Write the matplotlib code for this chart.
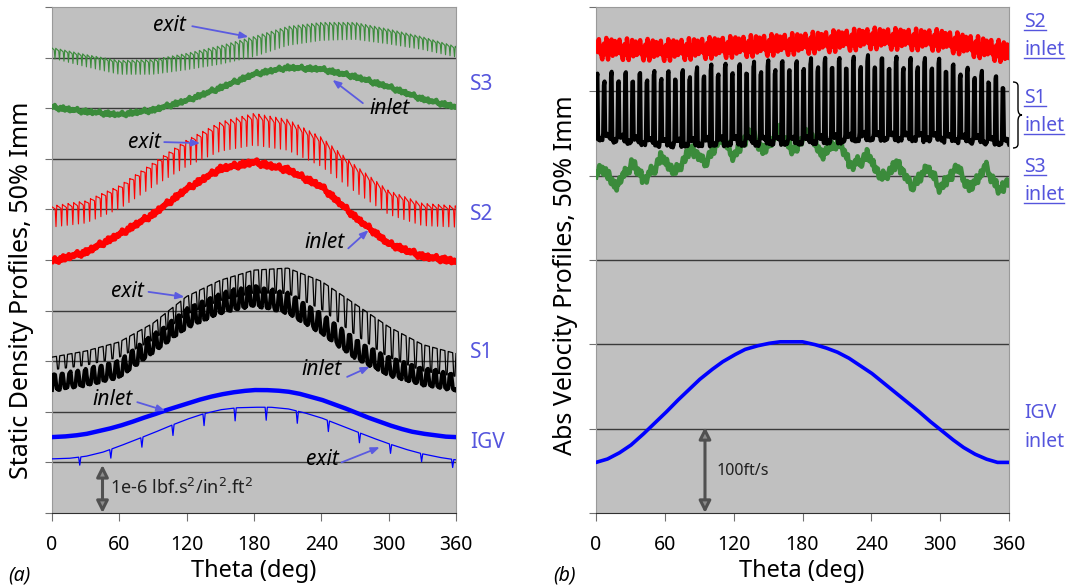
import numpy as np
import matplotlib.pyplot as plt
from matplotlib.path import Path
from matplotlib.patches import PathPatch
from matplotlib.lines import Line2D

plt.rcParams["font.family"] = ["Noto Sans", "DejaVu Sans"]

W, H = 1072, 588

# ---------------- panel (a): static density profiles ----------------
theta_a = [0, 30, 60, 90, 120, 150, 180, 210, 240, 270, 300, 330, 360]
theta_10 = list(range(0, 361, 10))
theta_15 = list(range(0, 361, 15))

igv_in_a = [1.50, 1.51, 1.53, 1.56, 1.61, 1.66, 1.72, 1.79, 1.87, 1.94, 2.02, 2.09, 2.16,
            2.23, 2.29, 2.34, 2.38, 2.41, 2.43, 2.43, 2.42, 2.40, 2.36, 2.30, 2.24, 2.16,
            2.08, 1.99, 1.90, 1.82, 1.74, 1.67, 1.61, 1.57, 1.54, 1.51, 1.50]
igv_ex_a = [1.07, 1.08, 1.12, 1.20, 1.32, 1.45, 1.58, 1.72, 1.85, 1.96, 2.04, 2.08, 2.09,
            2.09, 2.06, 1.98, 1.88, 1.75, 1.62, 1.49, 1.37, 1.26, 1.17, 1.10, 1.05]
s1_in_a = [2.58, 2.68, 2.85, 3.35, 3.85, 4.15, 4.30, 4.15, 3.75, 3.25, 2.90, 2.70, 2.58]
s1_ex_a = [3.08, 3.20, 3.38, 3.75, 4.28, 4.60, 4.80, 4.84, 4.58, 4.13, 3.68, 3.33, 3.15]
s2_in_a = [4.97, 5.15, 5.50, 5.90, 6.40, 6.80, 6.93, 6.78, 6.45, 5.85, 5.32, 5.07, 4.97]
s2_ex_a = [6.05, 6.15, 6.45, 6.90, 7.35, 7.70, 7.87, 7.75, 7.40, 6.85, 6.35, 6.10, 6.05]
s3_in_a = [8.02, 7.93, 7.87, 7.96, 8.15, 8.40, 8.67, 8.80, 8.77, 8.62, 8.42, 8.18, 8.02]
s3_ex_a = [9.19, 9.05, 8.93, 8.95, 9.07, 9.22, 9.40, 9.60, 9.68, 9.68, 9.55, 9.40, 9.21]

# blade-passing ripple depth, read at theta_a
igv_ex_depth = [0.16, 0.16, 0.18, 0.2, 0.22, 0.25, 0.26, 0.25, 0.22, 0.2, 0.18, 0.16, 0.16]
s1_in_amp = [0.15, 0.15, 0.16, 0.17, 0.18, 0.19, 0.19, 0.19, 0.19, 0.18, 0.17, 0.16, 0.15]
s1_ex_depth = [0.25, 0.28, 0.30, 0.33, 0.35, 0.40, 0.45, 0.50, 0.55, 0.60, 0.60, 0.52, 0.45]
s2_ex_depth = [0.40, 0.42, 0.44, 0.45, 0.50, 0.55, 0.60, 0.58, 0.55, 0.50, 0.45, 0.42, 0.40]
s3_ex_depth = [0.20, 0.23, 0.26, 0.28, 0.31, 0.35, 0.38, 0.36, 0.34, 0.32, 0.28, 0.24, 0.20]

# blades per revolution and one passage waveform for each row
igv_blades, igv_wave = 13, [0] * 25 + [-1, 0, 0]
s1_blades, s1_in_wave = 52, [-1.0, 0.9, 1.0, -0.9, -1.0]
s1_ex_wave = [0, 0, 0, 0, 0, -1, -1]
s2_blades, s2_ex_wave = 72, [0, -0.03, -0.06, -0.1, -0.14, -1.0, 0.05]
s3_blades, s3_ex_wave = 90, [0, -0.05, -0.1, -0.15, -1.0, 0.05]

# hand-read jitter of the thick traces
jitter = [0.0, 0.6, -0.2, 0.9, 0.3, -0.5, 0.1, -0.9, -0.3, 0.5, 0.2, -0.6,
          0.8, -0.1, -0.7, 0.4, 0.0, -0.4, 0.7, -0.8, 0.3, -0.2, 0.6, -0.5]

# ---------------- panel (b): abs velocity profiles ----------------
theta_b = [0, 60, 120, 180, 240, 300, 360]
theta_b20 = list(range(0, 361, 20))

igv_in_b = [0.60, 0.64, 0.71, 0.80, 0.92, 1.05, 1.18, 1.32, 1.45, 1.58, 1.69, 1.79, 1.87,
            1.94, 1.98, 2.01, 2.03, 2.03, 2.03, 2.00, 1.96, 1.91, 1.84, 1.75, 1.66, 1.55,
            1.44, 1.33, 1.22, 1.10, 0.99, 0.88, 0.78, 0.70, 0.64, 0.60, 0.60]
s1_in_b = [4.82, 4.80, 4.85, 4.88, 4.92, 4.90, 4.75]
s1_amp_b = [0.38, 0.45, 0.48, 0.50, 0.50, 0.48, 0.38]
s2_in_b = [5.50, 5.48, 5.52, 5.56, 5.62, 5.60, 5.45]
s3_in_b = [3.98, 4.00, 4.06, 4.12, 4.20, 4.30, 4.36, 4.42, 4.42, 4.42, 4.36, 4.25, 4.12,
           4.05, 3.98, 3.98, 3.98, 3.98, 3.93]
s3_b_ripple = [0.12] * len(theta_b20)
# 58 blades: waveform below spans two passages, so 29 repeats
s1_b_pairs = 29
s1_b_wave = [-1.0, 0.9, 1.0, -0.95, -1.0, -1.0, -0.98, -0.98, -1.0, -1.0,
             -0.85, 0.7, 0.75, -0.85, -0.86, -0.86, -0.84, -0.84, -0.86, -0.9]
s3_b_waves, s3_b_wave = 14, [0, 0.5, 1.0, 0.6, 0.2, -0.3, -0.8, -1.0, -0.6, -0.2]

GREEN = "#3b8b3b"
ARROW = "#5b5be0"
LABEL = "#5555dd"


def profile(tb, base, blades=0, wave=None, td=None, depth=None, jit=0.0, jit_rep=30):
    n = len(jitter) * 30
    if blades:
        m = blades * len(wave)
        n = m * max(1, -(-n // m))
    th = np.linspace(0, 360, n + 1)
    y = np.interp(th, tb, base)
    if blades:
        w = np.interp(th / 360 * m, np.arange(m + 1), np.resize(wave, m + 1))
        y = y + np.interp(th, td, depth) * w
    if jit:
        k = jit_rep * len(jitter)
        y = y + jit * np.interp(np.linspace(0, k, th.size), np.arange(k + 1),
                                np.resize(jitter, k + 1))
    return th, y


def style_axes(ax, ytop):
    ax.set_facecolor("#c0c0c0")
    ax.set_xlim(0, 360)
    ax.set_ylim(0, ytop)
    ax.set_xticks(range(0, 361, 60))
    ax.set_yticks(range(0, ytop + 1))
    ax.tick_params(axis="y", length=5, color="#707070", labelleft=False)
    ax.tick_params(axis="x", length=6, color="#707070", labelsize=14, pad=10)
    for s in ax.spines.values():
        s.set_color("#9a9a9a")
    ax.spines["bottom"].set_color("#303030")
    for k in range(1, ytop):
        ax.axhline(k, color="#3a3a3a", lw=1.0, zorder=1)


def note(ax, text, xy_text, tail, tip):
    ax.text(*xy_text, text, style="italic", fontsize=15, ha="center", va="center", zorder=5)
    ax.annotate("", xy=tip, xytext=tail,
                arrowprops=dict(arrowstyle="-|>,head_length=0.5,head_width=0.2",
                                color=ARROW, lw=1.3, shrinkA=0, shrinkB=0), zorder=5)


def scale_bar(ax, x, y0, y1):
    ax.annotate("", xy=(x, y0), xytext=(x, y1),
                arrowprops=dict(arrowstyle="<|-|>,head_length=0.7,head_width=0.35",
                                fc="#8c8c8c", ec="#505050", lw=2.2, shrinkA=0, shrinkB=0),
                zorder=4)


fig = plt.figure(figsize=(W / 100, H / 100), dpi=100)
ax1 = fig.add_axes([52 / W, 1 - 513 / H, (456 - 52) / W, 506 / H])
ax2 = fig.add_axes([596 / W, 1 - 513 / H, (1009 - 596) / W, 506 / H])
style_axes(ax1, 10)
style_axes(ax2, 6)

# ---- (a) traces ----
ax1.plot(*profile(theta_15, igv_ex_a, igv_blades, igv_wave, theta_a, igv_ex_depth),
         color="blue", lw=0.9, zorder=3)
ax1.plot(*profile(theta_10, igv_in_a), color="blue", lw=3.2, zorder=3)

ax1.plot(*profile(theta_a, s1_ex_a, s1_blades, s1_ex_wave, theta_a, s1_ex_depth),
         color="black", lw=0.9, zorder=3)
ax1.plot(*profile(theta_a, s1_in_a, s1_blades, s1_in_wave, theta_a, s1_in_amp, jit=0.03),
         color="black", lw=2.8, zorder=3)

ax1.plot(*profile(theta_a, s2_ex_a, s2_blades, s2_ex_wave, theta_a, s2_ex_depth),
         color="red", lw=0.8, zorder=3)
ax1.plot(*profile(theta_a, s2_in_a, jit=0.07, jit_rep=18), color="red", lw=3.6, zorder=3)

ax1.plot(*profile(theta_a, s3_ex_a, s3_blades, s3_ex_wave, theta_a, s3_ex_depth),
         color=GREEN, lw=0.8, zorder=3)
ax1.plot(*profile(theta_a, s3_in_a, jit=0.06, jit_rep=18), color=GREEN, lw=3.0, zorder=3)

note(ax1, "exit", (105, 9.64), (125, 9.62), (175, 9.41))
note(ax1, "inlet", (301, 8.0), (277, 8.1), (250, 8.56))
note(ax1, "exit", (82, 7.33), (100, 7.33), (132, 7.31))
note(ax1, "inlet", (243, 5.35), (264, 5.23), (282, 5.59))
note(ax1, "exit", (67, 4.37), (86, 4.37), (118, 4.27))
note(ax1, "inlet", (240, 2.83), (263, 2.69), (283, 2.89))
note(ax1, "inlet", (54, 2.25), (76, 2.19), (101, 2.02))
note(ax1, "exit", (241, 1.05), (258, 1.0), (292, 1.30))

scale_bar(ax1, 45, 0, 0.95)
ax1.text(52, 0.5, "1e-6 lbf.s$^2$/in$^2$.ft$^2$", fontsize=13, va="center", color="#202020", zorder=5)

# ---- (b) traces ----
ax2.plot(*profile(theta_b20, s3_in_b, s3_b_waves, s3_b_wave, theta_b20, s3_b_ripple,
                  jit=0.09, jit_rep=16), color=GREEN, lw=3.4, zorder=3)
ax2.plot(*profile(theta_b, s1_in_b, s1_b_pairs, s1_b_wave, theta_b, s1_amp_b, jit=0.03),
         color="black", lw=2.9, zorder=3)
ax2.plot(*profile(theta_b, s2_in_b, jit=0.17, jit_rep=20), color="red", lw=3.2, zorder=3)
ax2.plot(*profile(theta_10, igv_in_b), color="blue", lw=2.6, zorder=3)

scale_bar(ax2, 95, 0, 1.02)
ax2.text(105, 0.5, "100ft/s", fontsize=11.5, va="center", color="#202020", zorder=5)

# ---- outside labels ----
for txt, y in [("S3", 85), ("S2", 215), ("S1", 352), ("IGV", 443)]:
    fig.text(470 / W, 1 - y / H, txt, color=LABEL, fontsize=15, va="center")

under = []
for txt, y in [("S2", 22), ("inlet", 50), ("S1", 98), ("inlet", 126), ("S3", 167), ("inlet", 195)]:
    under.append(fig.text(1024 / W, 1 - y / H, txt, color=LABEL, fontsize=14, va="center"))
for txt, y in [("IGV", 413), ("inlet", 442)]:
    fig.text(1024 / W, 1 - y / H, txt, color=LABEL, fontsize=14, va="center")

# brace next to S1 inlet
bx, by0, by1 = 1013, 82, 148
ym = (by0 + by1) / 2
verts = [(bx, by0), (bx + 5, by0), (bx + 5, by0 + 4), (bx + 5, ym - 6), (bx + 5, ym), (bx + 9, ym),
         (bx + 5, ym), (bx + 5, ym + 6), (bx + 5, by1 - 4), (bx + 5, by1), (bx, by1)]
codes = [Path.MOVETO, Path.CURVE3, Path.CURVE3, Path.LINETO, Path.CURVE3, Path.CURVE3,
         Path.CURVE3, Path.CURVE3, Path.LINETO, Path.CURVE3, Path.CURVE3]
verts = [(x / W, 1 - y / H) for x, y in verts]
fig.add_artist(PathPatch(Path(verts, codes), fill=False, ec="black", lw=1.0,
                         transform=fig.transFigure))

fig.text(22 / W, 1 - 290 / H, "Static Density Profiles, 50% Imm", rotation=90,
         fontsize=18, ha="center", va="center")
fig.text(565 / W, 1 - 275 / H, "Abs Velocity Profiles, 50% Imm", rotation=90,
         fontsize=18, ha="center", va="center")
fig.text(254 / W, 1 - 571 / H, "Theta (deg)", fontsize=17, ha="center", va="center")
fig.text(802 / W, 1 - 571 / H, "Theta (deg)", fontsize=17, ha="center", va="center")
fig.text(8 / W, 1 - 576 / H, "(a)", fontsize=14, style="italic", va="center")
fig.text(553 / W, 1 - 576 / H, "(b)", fontsize=14, style="italic", va="center")

fig.canvas.draw()
r = fig.canvas.get_renderer()
for t in under:
    bb = t.get_window_extent(r)
    yy = (bb.y0 + 2) / H
    fig.add_artist(Line2D([bb.x0 / W, bb.x1 / W], [yy, yy], color=LABEL, lw=1.0,
                          transform=fig.transFigure))

fig.savefig("out.png", dpi=100)
